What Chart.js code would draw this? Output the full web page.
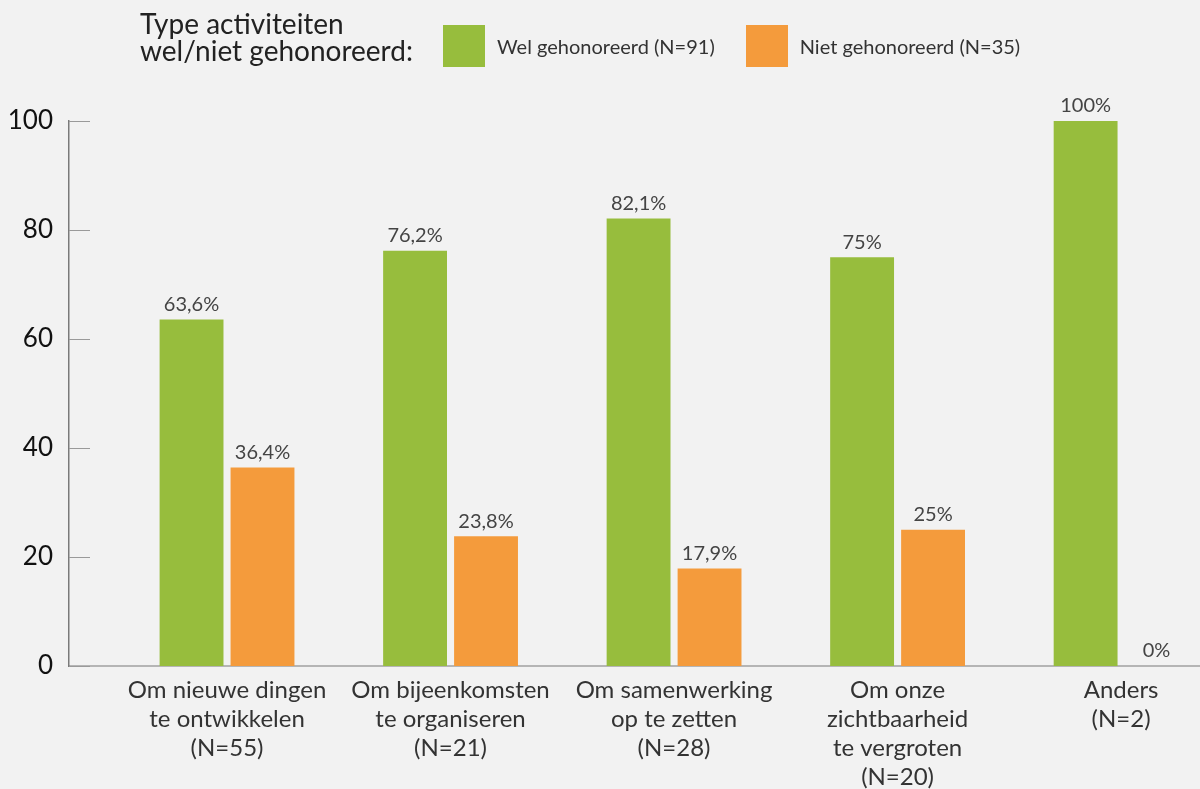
<!DOCTYPE html>
<html>
<head>
<meta charset="utf-8">
<script src="https://cdn.jsdelivr.net/npm/chart.js@4.4.1/dist/chart.umd.min.js"></script>
<style>
html,body{margin:0;padding:0;background:#f2f2f2;overflow:hidden}
#wrap{position:relative;width:1200px;height:789px;background:#f2f2f2}
#chart{position:absolute;left:0;top:0}
#legendTitle{position:absolute;left:140px;top:10px;font-family:Lato,sans-serif;font-size:28px;line-height:27px;color:#222}
#legendItems{position:absolute;left:443px;top:25px;display:flex;align-items:center;font-family:Lato,sans-serif;font-size:20px;color:#333}
.lbox{width:42px;height:42px;margin-right:12px}
.ltxt{margin-right:31px}
</style>
</head>
<body>
<div id="wrap">
<canvas id="chart" width="1200" height="789"></canvas>
<div id="legendTitle"></div>
<div id="legendItems"></div>
</div>
<script>
const categories = [
  ["Om nieuwe dingen", "te ontwikkelen", "(N=55)"],
  ["Om bijeenkomsten", "te organiseren", "(N=21)"],
  ["Om samenwerking", "op te zetten", "(N=28)"],
  ["Om onze", "zichtbaarheid", "te vergroten", "(N=20)"],
  ["Anders", "(N=2)"]
];
const welValues = [63.6, 76.2, 82.1, 75, 100];
const nietValues = [36.4, 23.8, 17.9, 25, 0];
const seriesLabels = ["Wel gehonoreerd (N=91)", "Niet gehonoreerd (N=35)"];
const yTicks = [0, 20, 40, 60, 80, 100];
const legendTitle = ["Type activiteiten", "wel/niet gehonoreerd:"];

const colors = ["#97bd3d", "#f49b3c"];
const FONT = "Lato, sans-serif";

function fmt(v) { return String(v).replace('.', ',') + '%'; }

const innerTicks = {
  id: 'innerTicks',
  afterDraw(chart) {
    const y = chart.scales.y, ctx = chart.ctx, a = chart.chartArea;
    ctx.save();
    ctx.strokeStyle = '#9a9a9a';
    ctx.lineWidth = 1;
    yTicks.forEach(t => {
      const py = Math.round(y.getPixelForValue(t)) + 0.5;
      ctx.beginPath();
      ctx.moveTo(a.left, py);
      ctx.lineTo(a.left + 21, py);
      ctx.stroke();
    });
    ctx.restore();
  }
};

const valueLabels = {
  id: 'valueLabels',
  afterDatasetsDraw(chart) {
    const ctx = chart.ctx;
    ctx.save();
    ctx.font = "20px " + FONT;
    ctx.fillStyle = '#444';
    ctx.textAlign = 'center';
    ctx.textBaseline = 'bottom';
    chart.data.datasets.forEach((ds, di) => {
      chart.getDatasetMeta(di).data.forEach((el, i) => {
        ctx.fillText(fmt(ds.data[i].y), el.x, el.y - 5);
      });
    });
    ctx.restore();
  }
};

const chart = new Chart(document.getElementById('chart'), {
  type: 'bar',
  data: {
    datasets: [
      { label: seriesLabels[0], data: welValues.map((v, i) => ({ x: i + 1, y: v })), backgroundColor: colors[0] },
      { label: seriesLabels[1], data: nietValues.map((v, i) => ({ x: i + 1, y: v })), backgroundColor: colors[1] }
    ]
  },
  options: {
    responsive: false,
    animation: false,
    devicePixelRatio: 1,
    categoryPercentage: 0.635,
    barPercentage: 0.9,
    layout: { padding: { top: 121, left: 0, right: 0, bottom: 0 } },
    plugins: { legend: { display: false }, tooltip: { enabled: false } },
    scales: {
      x: {
        type: 'linear',
        offset: false,
        bounds: 'ticks',
        min: 0.293,
        max: 5.353,
        afterBuildTicks: s => { s.ticks = categories.map((c, i) => ({ value: i + 1 })); },
        afterDataLimits: s => { s.min = 0.293; s.max = 5.353; },
        afterFit: s => { s.height = 123; },
        grid: { display: false, drawTicks: false },
        border: { display: true, color: '#b5b5b5', width: 2 },
        ticks: {
          autoSkip: false, maxRotation: 0, minRotation: 0, padding: 10,
          color: '#333', font: { family: FONT, size: 24, lineHeight: 1.21 },
          callback: v => categories[v - 1]
        }
      },
      y: {
        min: 0,
        max: 100,
        afterBuildTicks: s => { s.ticks = yTicks.map(v => ({ value: v })); },
        afterFit: s => { s.width = 69; },
        grid: { display: false, drawTicks: false },
        border: { display: true, color: '#7a7a7a', width: 1.5 },
        ticks: { padding: 16, color: '#111', font: { family: FONT, size: 26 } }
      }
    }
  },
  plugins: [innerTicks, valueLabels]
});

document.getElementById('legendTitle').innerHTML = legendTitle.join('<br>');
const li = document.getElementById('legendItems');
chart.data.datasets.forEach(ds => {
  const b = document.createElement('div'); b.className = 'lbox'; b.style.background = ds.backgroundColor;
  const t = document.createElement('div'); t.className = 'ltxt'; t.textContent = ds.label;
  li.appendChild(b); li.appendChild(t);
});
</script>
</body>
</html>
